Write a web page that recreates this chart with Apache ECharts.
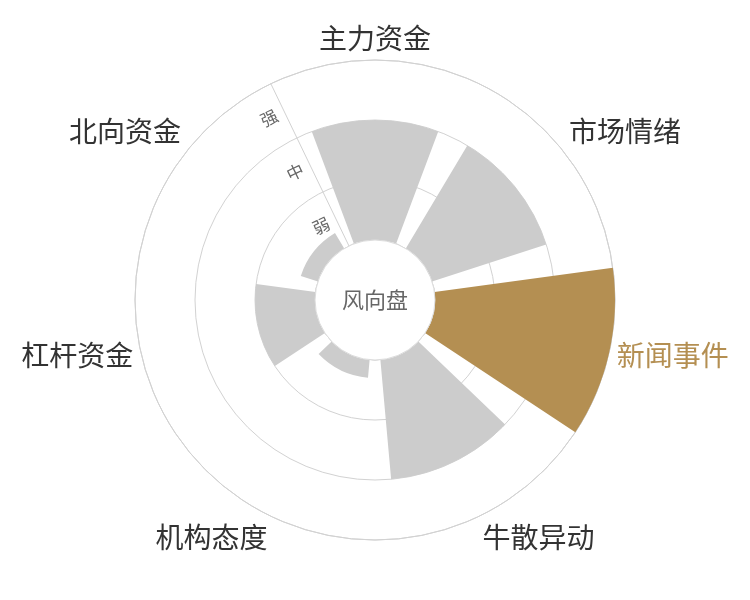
<!DOCTYPE html>
<html>
<head>
<meta charset="utf-8">
<script src="https://cdn.jsdelivr.net/npm/echarts@6/dist/echarts.min.js"></script>
<style>
html,body{margin:0;padding:0;background:#fff;}
#main{width:750px;height:600px;}
</style>
</head>
<body>
<div id="main"></div>
<script>
const categories = ['主力资金', '市场情绪', '新闻事件', '牛散异动', '机构态度', '杠杆资金', '北向资金'];
const strength = [2, 2, 3, 2, 0.3, 1, 0.3];
const levelLabels = ['弱', '中', '强'];
const highlightName = '新闻事件';
const centerTitle = '风向盘';

const GOLD = '#b48f52';
const GRAY = '#cccccc';
const LINE = '#d2d2d2';
const FONT = '"Noto Sans CJK SC", "Noto Sans", sans-serif';
const startAngle = 90 + 180 / categories.length;

const chart = echarts.init(document.getElementById('main'));
chart.setOption({
  backgroundColor: '#fff',
  animation: false,
  textStyle: { fontFamily: FONT },
  polar: [
    { center: ['50%', '50%'], radius: [60, 240] },
    { center: ['50%', '50%'], radius: [60, 240] }
  ],
  angleAxis: [
    {
      polarIndex: 0,
      type: 'category',
      data: categories.map(c => c === highlightName ? { value: c, textStyle: { color: GOLD } } : c),
      startAngle: startAngle,
      clockwise: true,
      boundaryGap: true,
      axisLine: { show: true, lineStyle: { color: LINE, width: 1 } },
      axisTick: { show: false },
      splitLine: { show: false },
      axisLabel: { color: '#333', fontSize: 28, margin: 8, fontFamily: FONT }
    },
    {
      polarIndex: 1,
      type: 'category',
      data: categories,
      startAngle: startAngle,
      show: false
    }
  ],
  radiusAxis: [
    {
      polarIndex: 0,
      type: 'value',
      min: 0,
      max: 3,
      interval: 1,
      axisLine: { show: false },
      axisTick: { show: false },
      axisLabel: { show: false },
      splitLine: { show: true, lineStyle: { color: LINE, width: 1 } }
    },
    {
      polarIndex: 1,
      type: 'category',
      data: levelLabels,
      axisLine: { show: true, lineStyle: { color: LINE, width: 1 } },
      axisTick: { show: false },
      splitLine: { show: false },
      axisLabel: { color: '#666', fontSize: 17, rotate: startAngle - 90, fontFamily: FONT }
    }
  ],
  series: [
    {
      type: 'bar',
      coordinateSystem: 'polar',
      polarIndex: 0,
      barCategoryGap: '20%',
      data: strength.map((v, i) => ({
        value: v,
        itemStyle: { color: categories[i] === highlightName ? GOLD : GRAY }
      })),
      z: 2
    },
    {
      type: 'pie',
      center: ['50%', '50%'],
      radius: [0, 60],
      silent: true,
      z: 5,
      itemStyle: { color: '#fff', borderColor: '#dcdcdc', borderWidth: 1 },
      label: { show: true, position: 'center', color: '#666', fontSize: 22, fontFamily: FONT, formatter: '{b}' },
      labelLine: { show: false },
      data: [{ name: centerTitle, value: 1 }]
    }
  ]
});
</script>
</body>
</html>
